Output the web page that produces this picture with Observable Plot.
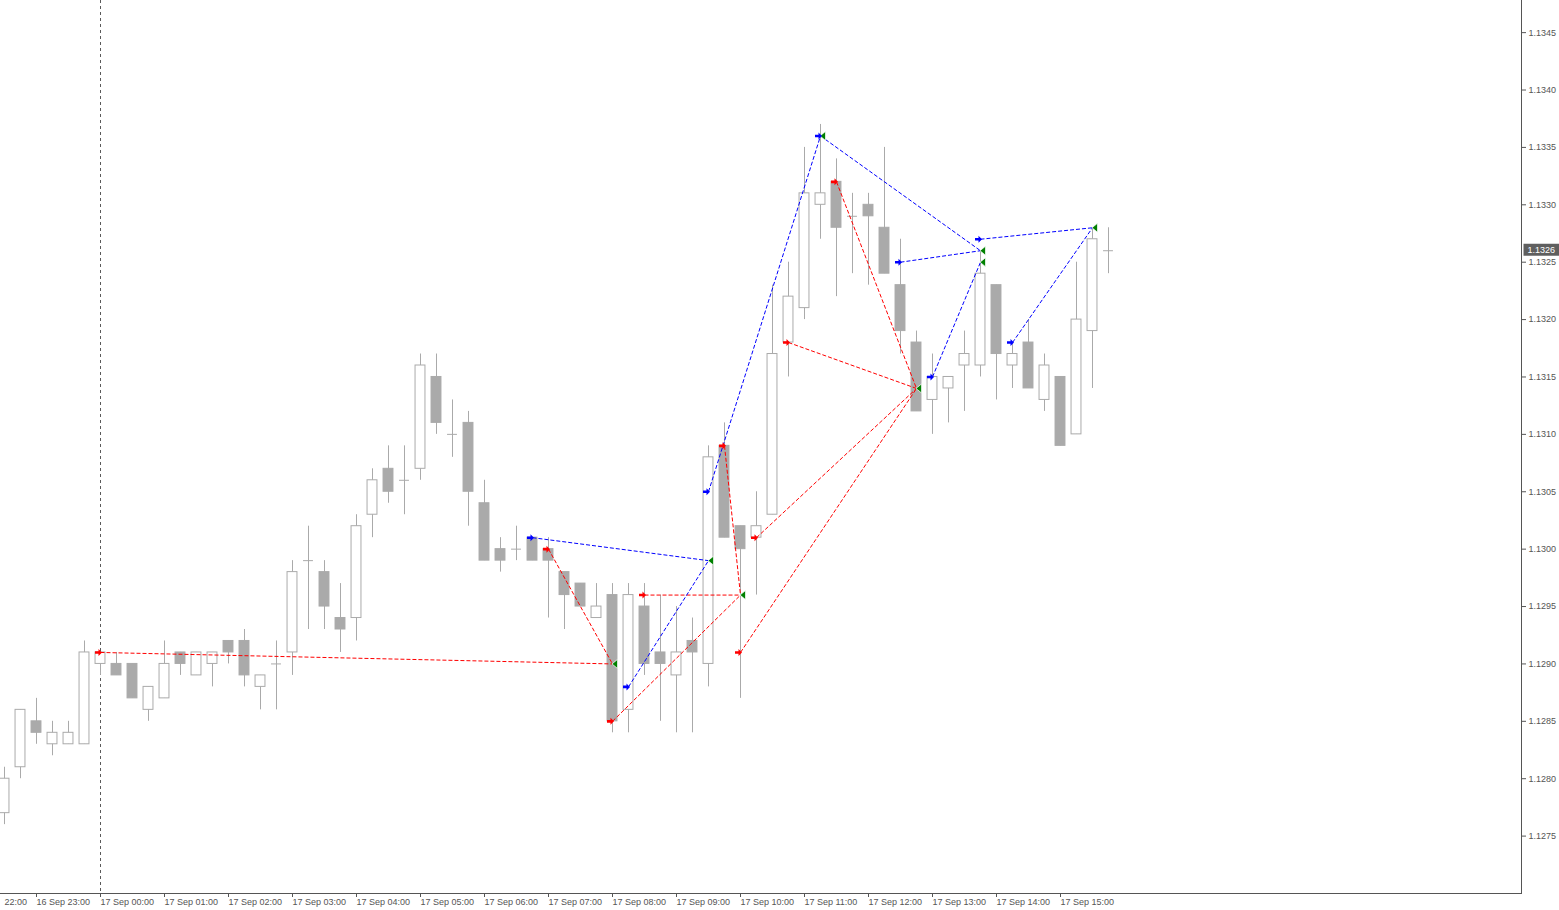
<!DOCTYPE html>
<html><head><meta charset="utf-8">
<script src="https://cdn.jsdelivr.net/npm/d3@7"></script>
<script src="https://cdn.jsdelivr.net/npm/@observablehq/plot@0.6"></script>
<style>html,body{margin:0;padding:0;background:#fff;overflow:hidden}</style>
</head><body><div id="chart"></div>
<script>
// M15 bars, bar 0 = 17 Sep 00:00
const firstBar = -6; // 16 Sep 22:30
const open  = [1.1277,1.1281,1.1285,1.1283,1.1283,1.1283,1.1290,1.1290,1.1290,1.1286,1.1287,1.1291,1.1289,1.1290,1.1292,1.1292,1.1288,1.1290,1.1291,1.1299,1.1298,1.1294,1.1294,1.1303,1.1307,1.1306,1.1307,1.1315,1.1310,1.1311,1.1304,1.1300,1.1300,1.1301,1.1300,1.1298,1.1297,1.1294,1.1296,1.1286,1.1295,1.1291,1.1289,1.1292,1.1290,1.1309,1.1302,1.1301,1.1303,1.1318,1.1321,1.1330,1.1332,1.1329,1.1330,1.1328,1.1323,1.1318,1.1313,1.1314,1.1316,1.1316,1.1323,1.1316,1.1318,1.1313,1.1315,1.1310,1.1319,1.1326];
const high  = [1.1281,1.1286,1.1287,1.1285,1.1285,1.1292,1.1291,1.1291,1.1290,1.1288,1.1292,1.1291,1.1291,1.1291,1.1292,1.1293,1.1289,1.1292,1.1299,1.1302,1.1299,1.1297,1.1303,1.1307,1.1309,1.1309,1.1317,1.1317,1.1313,1.1312,1.1306,1.1301,1.1302,1.1301,1.1301,1.1298,1.1297,1.1297,1.1297,1.1297,1.1297,1.1296,1.1295,1.1294,1.1309,1.1311,1.1302,1.1305,1.1323,1.1325,1.1335,1.1337,1.1334,1.1331,1.1331,1.1335,1.1327,1.1319,1.1317,1.1315,1.1319,1.1326,1.1323,1.1318,1.1320,1.1317,1.1315,1.1325,1.1328,1.1328];
const low   = [1.1276,1.1280,1.1283,1.1282,1.1283,1.1283,1.1289,1.1289,1.1287,1.1285,1.1287,1.1289,1.1289,1.1288,1.1290,1.1288,1.1286,1.1286,1.1289,1.1293,1.1293,1.1291,1.1292,1.1301,1.1304,1.1303,1.1306,1.1310,1.1308,1.1302,1.1299,1.1298,1.1299,1.1299,1.1294,1.1293,1.1295,1.1294,1.1284,1.1284,1.1289,1.1285,1.1284,1.1284,1.1288,1.1301,1.1287,1.1296,1.1303,1.1315,1.1320,1.1327,1.1322,1.1324,1.1323,1.1324,1.1317,1.1312,1.1310,1.1311,1.1312,1.1315,1.1313,1.1314,1.1314,1.1312,1.1309,1.1310,1.1314,1.1324];
const close = [1.1280,1.1286,1.1284,1.1284,1.1284,1.1291,1.1291,1.1289,1.1287,1.1288,1.1290,1.1290,1.1291,1.1291,1.1291,1.1289,1.1289,1.1290,1.1298,1.1299,1.1295,1.1293,1.1302,1.1306,1.1305,1.1306,1.1316,1.1311,1.1310,1.1305,1.1299,1.1299,1.1300,1.1299,1.1299,1.1296,1.1295,1.1295,1.1285,1.1296,1.1290,1.1290,1.1291,1.1291,1.1308,1.1301,1.1300,1.1302,1.1317,1.1322,1.1331,1.1331,1.1328,1.1329,1.1329,1.1324,1.1319,1.1312,1.1315,1.1315,1.1317,1.1324,1.1317,1.1317,1.1314,1.1316,1.1309,1.1320,1.1327,1.1326];

// x-axis tick labels (hourly); the first one is shown cut to its time, as in the reference
const xTickBars   = [-8,-4,0,4,8,12,16,20,24,28,32,36,40,44,48,52,56,60];
const xTickLabels = ["22:00","16 Sep 23:00","17 Sep 00:00","17 Sep 01:00","17 Sep 02:00","17 Sep 03:00","17 Sep 04:00","17 Sep 05:00","17 Sep 06:00","17 Sep 07:00","17 Sep 08:00","17 Sep 09:00","17 Sep 10:00","17 Sep 11:00","17 Sep 12:00","17 Sep 13:00","17 Sep 14:00","17 Sep 15:00"];
const yTicks = [1.1275,1.1280,1.1285,1.1290,1.1295,1.1300,1.1305,1.1310,1.1315,1.1320,1.1325,1.1330,1.1335,1.1340,1.1345];
const daySeparator = [0];

// indicator signals
const redArrowBar  = [0,28,32,34,39,40,41,43,46];
const redArrowPx   = [1.1291,1.1300,1.1285,1.1296,1.1309,1.1291,1.1301,1.1318,1.1332];
const redTarget    = [0,0,2,2,2,4,4,4,4];
const blueArrowBar = [27,33,38,45,50,52,55,57];
const blueArrowPx  = [1.1301,1.1288,1.1305,1.1336,1.1325,1.1315,1.1327,1.1318];
const blueTarget   = [1,1,3,5,5,6,7,7];
const greenBar     = [32,38,40,45,51,55,55,62];
const greenPx      = [1.1290,1.1299,1.1296,1.1336,1.1314,1.1326,1.1325,1.1328];

const bars = open.map((o, k) => ({i: firstBar + k, open: o, high: high[k], low: low[k], close: close[k]}));
const bull = bars.filter(d => d.close > d.open);
const bear = bars.filter(d => d.close < d.open);
const doji = bars.filter(d => d.close === d.open);
const last = bars[bars.length - 1];

const reds = redArrowBar.map((b, k) => ({i: b, p: redArrowPx[k], i2: greenBar[redTarget[k]], p2: greenPx[redTarget[k]]}));
const blues = blueArrowBar.map((b, k) => ({i: b, p: blueArrowPx[k], i2: greenBar[blueTarget[k]], p2: greenPx[blueTarget[k]]}));
const greens = greenBar.map((b, k) => ({i: b, p: greenPx[k]}));
const xTicks = xTickBars.map((b, k) => ({i: b, label: xTickLabels[k]}));

const arrowRight = {draw(ctx) {
  ctx.moveTo(1.5, 0); ctx.lineTo(-2, -3.5); ctx.lineTo(-2, -1.3); ctx.lineTo(-5.5, -1.3);
  ctx.lineTo(-5.5, 1.3); ctx.lineTo(-2, 1.3); ctx.lineTo(-2, 3.5); ctx.closePath();
}};
const triLeft = {draw(ctx) {
  ctx.moveTo(-0.5, 0); ctx.lineTo(5, -4.5); ctx.lineTo(5, 4.5); ctx.closePath();
}};
const priceBox = {draw(ctx) { ctx.rect(2, -7, 36, 12); }};

const gray = "#aaaaaa";
const half = 0.31;

const chart = Plot.plot({
  width: 1559, height: 910,
  marginLeft: 0, marginRight: 38, marginTop: 0, marginBottom: 17,
  style: {background: "#ffffff", fontFamily: "'Liberation Sans', Arial, sans-serif", fontSize: "9px", color: "#555"},
  x: {domain: [-6.25, 88.8125], ticks: xTickBars, tickSize: 4, tickFormat: () => "", line: true, label: null},
  y: {domain: [1.1270, 1.13478], axis: "right", ticks: yTicks, tickSize: 4, tickPadding: 3, tickFormat: d3.format(".4f"), line: true, label: null},
  marks: [
    Plot.ruleX(daySeparator, {x: d => d, stroke: "#5a5a5a", strokeDasharray: "3,3"}),
    Plot.ruleX(bars, {x: "i", y1: "low", y2: "high", stroke: gray}),
    Plot.rect(bear, {x1: d => d.i - half, x2: d => d.i + half, y1: "open", y2: "close", fill: gray, stroke: gray}),
    Plot.rect(bull, {x1: d => d.i - half, x2: d => d.i + half, y1: "open", y2: "close", fill: "white", stroke: gray}),
    Plot.ruleY(doji, {y: "open", x1: d => d.i - half, x2: d => d.i + half, stroke: gray}),
    Plot.link(reds, {x1: "i", y1: "p", x2: "i2", y2: "p2", stroke: "#ff0000", strokeDasharray: "4,2"}),
    Plot.link(blues, {x1: "i", y1: "p", x2: "i2", y2: "p2", stroke: "#0000ff", strokeDasharray: "4,2"}),
    Plot.dot(greens, {x: "i", y: "p", symbol: triLeft, fill: "#008000", stroke: "white", strokeWidth: 0.7}),
    Plot.dot(reds, {x: "i", y: "p", symbol: arrowRight, fill: "#ff0000", stroke: "none"}),
    Plot.dot(blues, {x: "i", y: "p", symbol: arrowRight, fill: "#0000ff", stroke: "none"}),
    Plot.text(xTicks.slice(0, 1), {x: "i", text: "label", frameAnchor: "bottom", textAnchor: "start", dy: 11, dx: 32, fontSize: 9, fill: "#555"}),
    Plot.text(xTicks.slice(1), {x: "i", text: "label", frameAnchor: "bottom", textAnchor: "start", dy: 11, dx: 0, fontSize: 9, fill: "#555"}),
    Plot.dot([last], {x: () => 88.8125, y: "close", symbol: priceBox, fill: "#5f5f5f", stroke: "none"}),
    Plot.text([last], {x: () => 88.8125, y: "close", text: d => d3.format(".4f")(d.close), textAnchor: "start", dx: 6, dy: -1, fill: "white", fontSize: 9})
  ]
});
document.getElementById("chart").appendChild(chart);
</script></body></html>
